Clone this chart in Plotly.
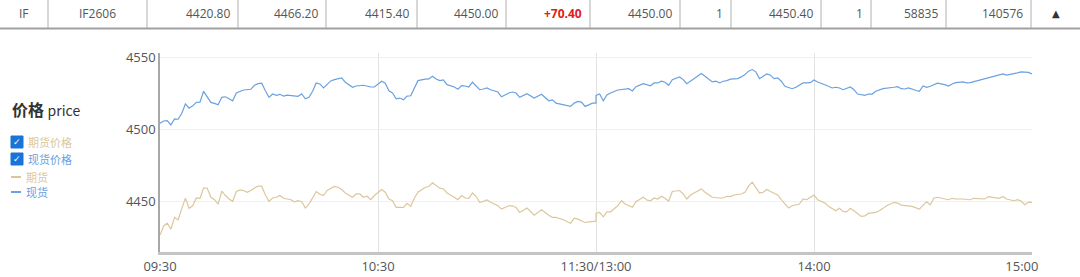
import plotly.graph_objects as go

# ---------------- data ----------------
quote_cells = ["IF", "IF2606", "4420.80", "4466.20", "4415.40", "4450.00", "+70.40",
               "4450.00", "1", "4450.40", "1", "58835", "140576"]

x_ticks = ["09:30", "10:30", "11:30/13:00", "14:00", "15:00"]
y_ticks = [4450, 4500, 4550]

spot_time = ["09:30","09:31","09:32","09:33","09:34","09:35","09:36","09:37","09:38","09:39",
             "09:40","09:41","09:42","09:43","09:44","09:45","09:46","09:47","09:48","09:49",
             "09:50","09:51","09:52","09:53","09:55","09:56","09:57","09:58","09:59","10:00",
             "10:01","10:02","10:03","10:04","10:05","10:06","10:07","10:08","10:09","10:10",
             "10:11","10:12","10:13","10:14","10:15","10:16","10:17","10:18","10:19","10:20",
             "10:21","10:23","10:24","10:26","10:28","10:29","10:31","10:32","10:33","10:34",
             "10:35","10:36","10:37","10:38","10:39","10:40","10:41","10:43","10:44","10:45",
             "10:46","10:47","10:48","10:49","10:51","10:52","10:53","10:54","10:55","10:56",
             "10:57","10:58","10:59","11:00","11:01","11:03","11:04","11:05","11:06","11:07",
             "11:08","11:09","11:11","11:13","11:14","11:15","11:17","11:18","11:19","11:21",
             "11:23","11:24","11:25","11:26","11:27","11:28","11:29","11:30",
             "13:00","13:01","13:02","13:03","13:04","13:06","13:08","13:09","13:10","13:11",
             "13:13","13:14","13:15","13:16","13:17","13:18","13:19","13:20","13:21","13:23",
             "13:24","13:25","13:26","13:28","13:29","13:30","13:31","13:32","13:33","13:34",
             "13:35","13:36","13:37","13:39","13:40","13:41","13:42","13:43","13:44","13:45",
             "13:46","13:47","13:48","13:49","13:50","13:51","13:52","13:54","13:55","13:56",
             "13:57","13:58","13:59","14:00","14:01","14:03","14:04","14:05","14:06","14:07",
             "14:08","14:09","14:10","14:11","14:12","14:14","14:15","14:16","14:17","14:19",
             "14:20","14:22","14:23","14:24","14:25","14:26","14:28","14:29","14:30","14:31",
             "14:32","14:33","14:34","14:36","14:37","14:38","14:39","14:41","14:42","14:43",
             "14:45","14:46","14:47","14:49","14:50","14:52","14:53","14:54","14:56","14:57",
             "14:58","14:59","15:00"]
spot_price = [4504.0,4505.6,4505.8,4502.8,4507.0,4506.8,4511.0,4517.5,4514.5,4516.1,
              4518.5,4518.7,4526.2,4522.0,4518.5,4517.8,4516.8,4522.0,4522.4,4521.0,
              4519.6,4525.0,4526.2,4527.1,4527.6,4530.4,4531.5,4531.8,4526.6,4522.0,
              4524.3,4523.4,4524.1,4522.9,4523.6,4523.4,4522.9,4522.7,4524.5,4521.0,
              4522.0,4526.2,4532.0,4531.3,4528.5,4530.8,4533.4,4534.3,4535.0,4535.5,
              4532.5,4529.0,4529.9,4530.4,4529.2,4529.2,4533.2,4531.8,4526.6,4525.0,
              4521.0,4521.5,4520.3,4522.9,4523.1,4529.0,4533.6,4534.6,4534.8,4536.7,
              4534.8,4533.6,4534.1,4530.8,4529.2,4527.6,4530.1,4529.9,4529.2,4532.5,
              4529.7,4527.3,4527.8,4528.5,4527.3,4525.7,4522.4,4523.8,4525.0,4525.7,
              4525.0,4522.0,4524.5,4521.5,4522.7,4524.1,4519.6,4520.3,4518.0,4516.8,
              4515.7,4518.0,4519.2,4518.7,4515.7,4516.8,4518.0,4518.0,
              4523.4,4524.3,4519.6,4523.6,4525.0,4527.1,4527.8,4528.0,4526.4,4529.4,
              4531.5,4530.8,4530.0,4532.0,4532.0,4533.2,4532.5,4530.4,4534.3,4536.2,
              4534.3,4531.5,4533.2,4536.7,4538.5,4536.7,4535.0,4532.7,4533.2,4532.0,
              4533.2,4533.6,4534.6,4535.0,4536.2,4537.8,4540.2,4541.3,4539.7,4535.0,
              4536.7,4538.3,4537.4,4535.0,4535.5,4533.2,4529.7,4528.0,4529.0,4530.4,
              4532.0,4532.0,4532.2,4534.1,4532.7,4530.8,4529.7,4528.5,4529.0,4528.5,
              4527.3,4528.5,4529.2,4527.3,4524.3,4523.4,4524.3,4524.3,4526.2,4528.0,
              4528.5,4529.0,4529.4,4528.0,4527.8,4528.5,4526.9,4526.2,4529.9,4529.0,
              4529.7,4530.8,4531.8,4530.8,4529.9,4531.3,4532.2,4532.7,4532.0,4532.2,
              4533.6,4534.6,4535.3,4536.2,4536.9,4538.3,4537.4,4537.8,4539.0,4539.7,
              4539.7,4539.3,4538.3]

fut_time = ["09:30","09:31","09:32","09:33","09:34","09:35","09:36","09:37","09:38","09:39",
            "09:40","09:41","09:42","09:43","09:44","09:45","09:46","09:47","09:48","09:49",
            "09:50","09:51","09:52","09:53","09:54","09:55","09:56","09:57","09:58","09:59",
            "10:00","10:01","10:02","10:03","10:04","10:05","10:06","10:07","10:08","10:09",
            "10:10","10:11","10:12","10:13","10:14","10:15","10:16","10:17","10:18","10:19",
            "10:20","10:21","10:23","10:24","10:25","10:26","10:27","10:28","10:29","10:31",
            "10:32","10:33","10:34","10:35","10:36","10:37","10:38","10:39","10:40","10:41",
            "10:43","10:44","10:45","10:46","10:47","10:48","10:49","10:51","10:52","10:53",
            "10:54","10:55","10:56","10:57","10:58","10:59","11:00","11:01","11:03","11:04",
            "11:05","11:06","11:07","11:08","11:09","11:11","11:13","11:14","11:15","11:17",
            "11:18","11:19","11:21","11:23","11:24","11:25","11:27","11:28","11:30",
            "13:00","13:01","13:02","13:03","13:04","13:06","13:07","13:08","13:10","13:11",
            "13:13","13:14","13:15","13:16","13:17","13:18","13:19","13:20","13:21","13:23",
            "13:24","13:25","13:26","13:28","13:29","13:30","13:31","13:32","13:34","13:35",
            "13:36","13:37","13:38","13:40","13:41","13:42","13:43","13:44","13:45","13:46",
            "13:47","13:48","13:50","13:51","13:52","13:53","13:54","13:56","13:57","13:58",
            "13:59","14:00","14:01","14:03","14:04","14:06","14:07","14:08","14:09","14:10",
            "14:11","14:12","14:13","14:14","14:15","14:17","14:18","14:19","14:20","14:22",
            "14:23","14:24","14:26","14:27","14:29","14:30","14:31","14:32","14:33","14:34",
            "14:36","14:37","14:38","14:39","14:41","14:43","14:44","14:46","14:47","14:48",
            "14:50","14:51","14:52","14:53","14:55","14:56","14:57","14:58","14:59","15:00"]
fut_price = [4426.4,4432.7,4434.6,4430.4,4438.6,4436.9,4444.9,4451.9,4444.9,4446.7,
             4452.1,4451.9,4459.1,4458.9,4452.6,4450.9,4447.9,4456.8,4453.8,4451.4,
             4449.8,4456.6,4457.7,4457.3,4456.1,4457.3,4459.1,4460.3,4460.3,4454.2,
             4449.8,4452.1,4452.6,4453.8,4451.9,4451.4,4450.9,4449.5,4450.2,4449.5,
             4445.1,4447.9,4451.9,4456.6,4454.7,4453.8,4457.3,4458.9,4460.1,4459.6,
             4458.0,4455.6,4452.6,4454.9,4454.9,4452.6,4453.3,4450.9,4453.8,4458.0,
             4456.1,4451.4,4450.2,4445.6,4445.6,4445.6,4448.4,4446.3,4451.9,4456.1,
             4459.6,4460.1,4462.6,4460.8,4458.9,4458.4,4455.6,4452.6,4450.9,4453.8,
             4452.1,4451.9,4455.6,4453.3,4449.1,4449.8,4450.7,4449.1,4446.7,4444.4,
             4445.6,4446.7,4446.7,4445.6,4442.1,4445.1,4440.2,4442.1,4443.9,4440.2,
             4438.6,4438.6,4437.0,4434.6,4438.1,4437.4,4435.1,4435.5,4436.0,
             4441.6,4442.1,4439.0,4442.5,4442.5,4446.7,4450.2,4447.9,4445.6,4449.5,
             4452.6,4450.7,4450.2,4452.1,4451.4,4453.3,4451.9,4449.8,4456.6,4457.3,
             4454.9,4451.4,4454.2,4457.3,4458.4,4456.1,4454.2,4452.6,4452.1,4452.1,
             4453.3,4453.1,4454.2,4454.9,4456.1,4460.3,4463.1,4458.9,4455.6,4456.1,
             4458.0,4456.6,4454.2,4450.9,4447.9,4445.1,4446.7,4447.9,4451.4,4450.9,
             4452.6,4454.2,4450.9,4448.6,4446.3,4443.2,4444.9,4442.8,4442.5,4444.9,
             4443.2,4440.9,4439.3,4439.7,4441.4,4442.1,4443.2,4444.9,4446.7,4449.1,
             4448.6,4447.2,4446.7,4446.3,4444.4,4447.2,4449.5,4447.4,4452.1,4452.6,
             4451.4,4450.9,4451.9,4451.4,4451.4,4450.9,4451.9,4451.9,4451.4,4453.1,
             4452.6,4451.9,4453.1,4451.4,4450.2,4450.9,4450.0,4447.4,4449.1,4449.1]

# ---------------- helpers ----------------
W, H = 1080, 277
ML, MR, MT, MB = 160, 48, 53, 25
PW, PH = W - ML - MR, H - MT - MB


def trade_index(t):
    h, m = map(int, t.split(":"))
    mins = h * 60 + m
    if mins <= 11 * 60 + 30:
        return mins - (9 * 60 + 30)
    return mins - 13 * 60 + 120


def tick_index(label):
    return trade_index(label.split("/")[0])


def px(x):
    return (x - ML) / PW


def py(y):
    return (H - MB - y) / PH


BLUE = "#6aa0e0"
TAN = "#dcc79c"
FONT = "Open Sans, Noto Sans CJK SC, sans-serif"
CJK = "Noto Sans CJK SC, sans-serif"

fig = go.Figure()
fig.add_trace(go.Scatter(x=[trade_index(t) for t in fut_time], y=fut_price, mode="lines",
                         name="期货", line=dict(color=TAN, width=1.2), hoverinfo="skip"))
fig.add_trace(go.Scatter(x=[trade_index(t) for t in spot_time], y=spot_price, mode="lines",
                         name="现货", line=dict(color=BLUE, width=1.2), hoverinfo="skip"))

shapes = []
annotations = []

# quote table row
borders = [48, 147, 238, 326, 417, 506, 590, 680, 731, 821, 871, 946, 1031]
for b in borders:
    shapes.append(dict(type="line", xref="paper", yref="paper", x0=px(b), x1=px(b),
                       y0=py(0), y1=py(28), line=dict(color="#b0b0b0", width=1)))
shapes.append(dict(type="line", xref="paper", yref="paper", x0=px(0), x1=px(W),
                   y0=py(28.5), y1=py(28.5), line=dict(color="#a0a0a0", width=2)))
for i, txt in enumerate(quote_cells):
    is_red = txt.startswith("+")
    if i < 2:
        left = 0 if i == 0 else borders[0]
        xa, xanchor = (left + borders[i]) / 2, "center"
    else:
        xa, xanchor = borders[i] - 6, "right"
    annotations.append(dict(xref="paper", yref="paper", x=px(xa), y=py(14),
                            text="<b>" + txt + "</b>" if is_red else txt,
                            showarrow=False, xanchor=xanchor, yanchor="middle",
                            font=dict(family=FONT, size=12,
                                      color="#e02020" if is_red else "#555555")))
annotations.append(dict(xref="paper", yref="paper", x=px(1056), y=py(14), text="▲",
                        showarrow=False, xanchor="center", yanchor="middle",
                        font=dict(family="DejaVu Sans", size=10, color="#333333")))

# left legend panel
annotations.append(dict(xref="paper", yref="paper", x=px(10), y=py(109),
                        text="<b>价格</b> <span style='font-size:14px'>price</span>",
                        showarrow=False, xanchor="left", yanchor="middle",
                        font=dict(family=CJK, size=16, color="#333333")))
for cy, label, col in [(142, "期货价格", TAN), (159, "现货价格", BLUE)]:
    shapes.append(dict(type="rect", xref="paper", yref="paper", x0=px(11), x1=px(23),
                       y0=py(cy - 6), y1=py(cy + 6), fillcolor="#1a73d9",
                       line=dict(color="#1a73d9", width=1)))
    annotations.append(dict(xref="paper", yref="paper", x=px(17), y=py(cy), text="<b>✓</b>",
                            showarrow=False, xanchor="center", yanchor="middle",
                            font=dict(family="DejaVu Sans", size=9, color="white")))
    annotations.append(dict(xref="paper", yref="paper", x=px(26), y=py(cy), text=label,
                            showarrow=False, xanchor="left", yanchor="middle",
                            font=dict(family=CJK, size=11, color=col)))
for cy, label, col in [(177, "期货", TAN), (192, "现货", BLUE)]:
    shapes.append(dict(type="line", xref="paper", yref="paper", x0=px(11), x1=px(21),
                       y0=py(cy), y1=py(cy), line=dict(color=col, width=2)))
    annotations.append(dict(xref="paper", yref="paper", x=px(24), y=py(cy), text=label,
                            showarrow=False, xanchor="left", yanchor="middle",
                            font=dict(family=CJK, size=11, color=col)))

tick_text = [t if t != "15:00" else t + "\u00a0" * 6 for t in x_ticks]

fig.update_layout(
    width=W, height=H, margin=dict(l=ML, r=MR, t=MT, b=MB, pad=0, autoexpand=False),
    paper_bgcolor="white", plot_bgcolor="white", showlegend=False,
    font=dict(family=FONT, size=13, color="#555555"),
    xaxis=dict(range=[0, 240], tickvals=[tick_index(t) for t in x_ticks], ticktext=tick_text,
               showgrid=True, gridcolor="#e2e2e2", gridwidth=1, zeroline=False,
               showline=True, linecolor="#c4c4c4", linewidth=3, ticks="", automargin=False,
               tickfont=dict(size=13, color="#555555")),
    yaxis=dict(range=[4414.6, 4552.8], tickvals=y_ticks, showgrid=True, gridcolor="#f0f0f0",
               zeroline=False, showline=True, linecolor="#a8a8a8", linewidth=1.5, ticks="",
               automargin=False, tickfont=dict(size=13, color="#555555")),
    shapes=shapes, annotations=annotations,
)
fig.write_html("out.html")
